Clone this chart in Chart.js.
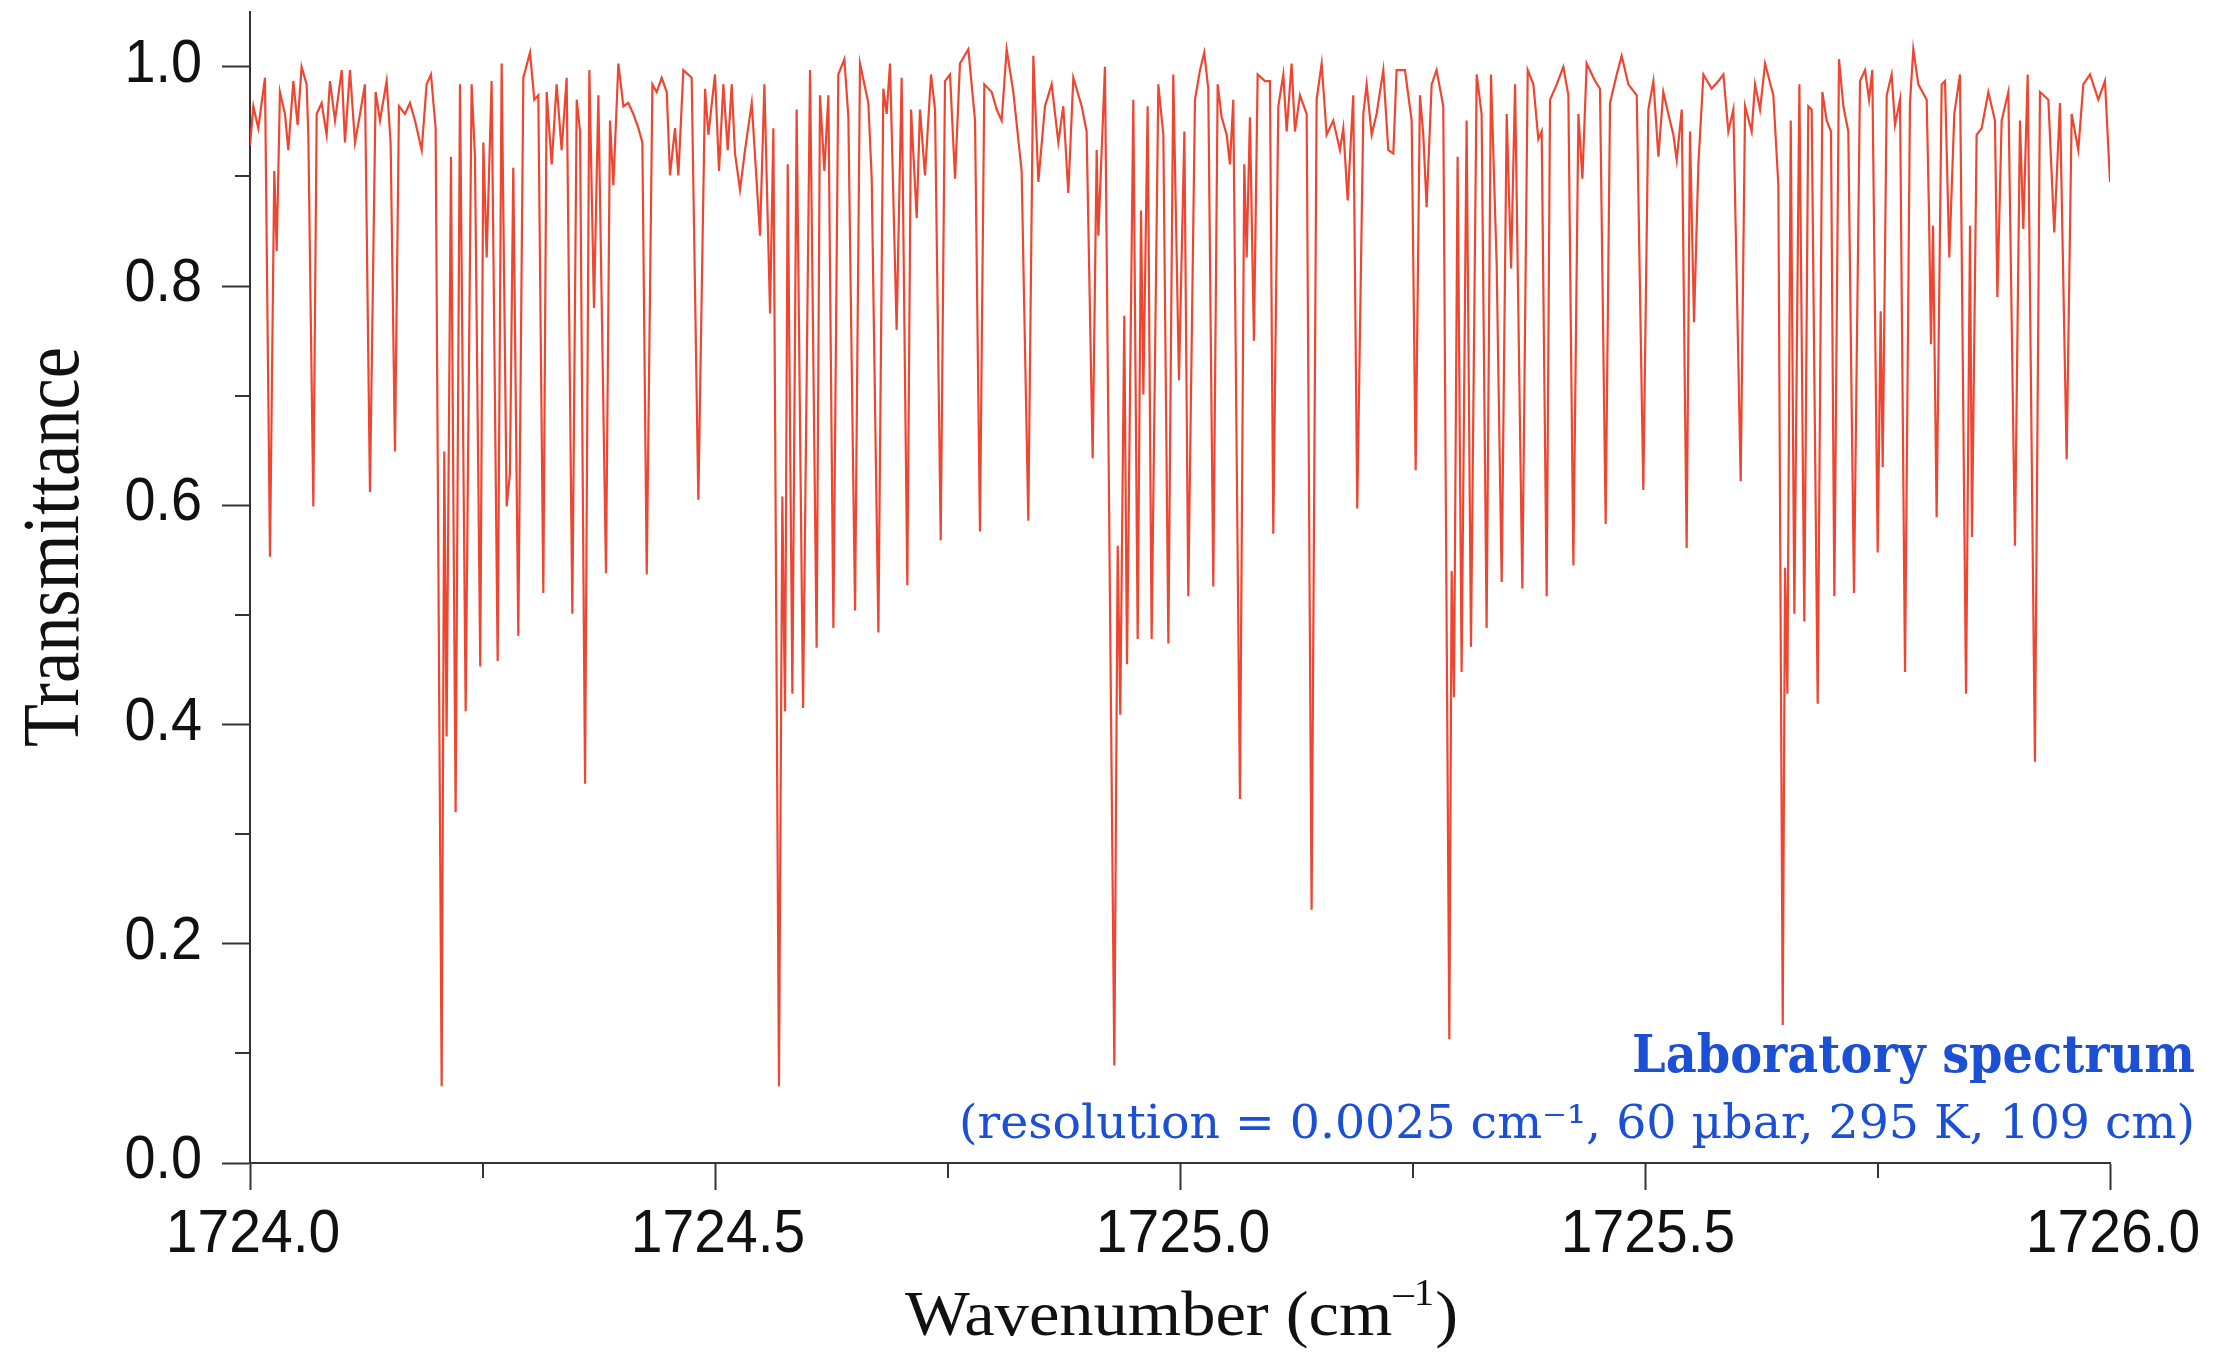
<!DOCTYPE html>
<html>
<head>
<meta charset="utf-8">
<title>Laboratory spectrum</title>
<script src="https://cdn.jsdelivr.net/npm/chart.js@4.4.1/dist/chart.umd.min.js"></script>
<style>
  html, body { margin: 0; padding: 0; background: #fff; }
  canvas { display: block; }
</style>
</head>
<body>
<canvas id="spectrum" width="2218" height="1355"></canvas>
<script>
// wavenumber (cm-1) and transmittance
const wavenumber = [
  1724.0000, 1724.0036, 1724.0089, 1724.0161, 1724.0215, 1724.0261, 1724.0287, 1724.0322, 1724.0376, 1724.0412,
  1724.0466, 1724.0512, 1724.0555, 1724.0609, 1724.0627, 1724.0681, 1724.0717, 1724.0770, 1724.0824, 1724.0860,
  1724.0914, 1724.0986, 1724.1021, 1724.1075, 1724.1129, 1724.1183, 1724.1236, 1724.1290, 1724.1351, 1724.1398,
  1724.1469, 1724.1512, 1724.1559, 1724.1602, 1724.1666, 1724.1720, 1724.1774, 1724.1846, 1724.1899, 1724.1946,
  1724.1996, 1724.2061, 1724.2089, 1724.2114, 1724.2161, 1724.2211, 1724.2258, 1724.2319, 1724.2383, 1724.2419,
  1724.2476, 1724.2509, 1724.2545, 1724.2598, 1724.2663, 1724.2706, 1724.2760, 1724.2795, 1724.2831, 1724.2885,
  1724.2939, 1724.3011, 1724.3057, 1724.3100, 1724.3154, 1724.3190, 1724.3244, 1724.3297, 1724.3351, 1724.3405,
  1724.3466, 1724.3513, 1724.3549, 1724.3603, 1724.3649, 1724.3699, 1724.3746, 1724.3828, 1724.3871, 1724.3907,
  1724.3961, 1724.4015, 1724.4068, 1724.4122, 1724.4176, 1724.4219, 1724.4266, 1724.4327, 1724.4373, 1724.4427,
  1724.4481, 1724.4516, 1724.4570, 1724.4606, 1724.4660, 1724.4749, 1724.4821, 1724.4893, 1724.4929, 1724.5000,
  1724.5043, 1724.5090, 1724.5137, 1724.5180, 1724.5215, 1724.5269, 1724.5323, 1724.5395, 1724.5448, 1724.5484,
  1724.5531, 1724.5592, 1724.5628, 1724.5688, 1724.5724, 1724.5753, 1724.5782, 1724.5832, 1724.5878, 1724.5947,
  1724.6022, 1724.6093, 1724.6129, 1724.6176, 1724.6219, 1724.6273, 1724.6326, 1724.6391, 1724.6434, 1724.6506,
  1724.6559, 1724.6649, 1724.6685, 1724.6757, 1724.6810, 1724.6846, 1724.6882, 1724.6953, 1724.7007, 1724.7068,
  1724.7108, 1724.7169, 1724.7204, 1724.7258, 1724.7323, 1724.7366, 1724.7427, 1724.7473, 1724.7527, 1724.7581,
  1724.7634, 1724.7724, 1724.7796, 1724.7849, 1724.7896, 1724.7975, 1724.8029, 1724.8082, 1724.8136, 1724.8208,
  1724.8297, 1724.8369, 1724.8423, 1724.8477, 1724.8548, 1724.8620, 1724.8692, 1724.8745, 1724.8799, 1724.8853,
  1724.8943, 1724.8996, 1724.9061, 1724.9104, 1724.9122, 1724.9193, 1724.9294, 1724.9330, 1724.9358, 1724.9401,
  1724.9430, 1724.9498, 1724.9545, 1724.9581, 1724.9606, 1724.9652, 1724.9695, 1724.9767, 1724.9821, 1724.9875,
  1724.9928, 1724.9989, 1725.0047, 1725.0089, 1725.0161, 1725.0215, 1725.0261, 1725.0304, 1725.0358, 1725.0405,
  1725.0448, 1725.0502, 1725.0537, 1725.0573, 1725.0645, 1725.0691, 1725.0717, 1725.0752, 1725.0795, 1725.0835,
  1725.0914, 1725.0967, 1725.1003, 1725.1057, 1725.1111, 1725.1147, 1725.1200, 1725.1236, 1725.1290, 1725.1362,
  1725.1415, 1725.1469, 1725.1523, 1725.1577, 1725.1648, 1725.1720, 1725.1756, 1725.1803, 1725.1863, 1725.1906,
  1725.1971, 1725.2007, 1725.2061, 1725.2114, 1725.2186, 1725.2240, 1725.2294, 1725.2329, 1725.2419, 1725.2491,
  1725.2534, 1725.2580, 1725.2616, 1725.2652, 1725.2706, 1725.2759, 1725.2831, 1725.2896, 1725.2921, 1725.2946,
  1725.2985, 1725.3028, 1725.3082, 1725.3129, 1725.3190, 1725.3243, 1725.3297, 1725.3344, 1725.3405, 1725.3459,
  1725.3513, 1725.3560, 1725.3603, 1725.3681, 1725.3739, 1725.3800, 1725.3853, 1725.3889, 1725.3943, 1725.3979,
  1725.4051, 1725.4122, 1725.4176, 1725.4230, 1725.4284, 1725.4327, 1725.4373, 1725.4463, 1725.4516, 1725.4577,
  1725.4624, 1725.4696, 1725.4749, 1725.4821, 1725.4911, 1725.4982, 1725.5036, 1725.5090, 1725.5144, 1725.5197,
  1725.5251, 1725.5305, 1725.5341, 1725.5395, 1725.5448, 1725.5484, 1725.5527, 1725.5574, 1725.5628, 1725.5717,
  1725.5789, 1725.5843, 1725.5896, 1725.5950, 1725.6029, 1725.6076, 1725.6147, 1725.6183, 1725.6237, 1725.6291,
  1725.6380, 1725.6434, 1725.6481, 1725.6506, 1725.6531, 1725.6567, 1725.6606, 1725.6660, 1725.6713, 1725.6756,
  1725.6792, 1725.6857, 1725.6907, 1725.6953, 1725.7000, 1725.7036, 1725.7086, 1725.7133, 1725.7186, 1725.7247,
  1725.7312, 1725.7366, 1725.7409, 1725.7444, 1725.7502, 1725.7534, 1725.7556, 1725.7599, 1725.7652, 1725.7688,
  1725.7742, 1725.7796, 1725.7849, 1725.7885, 1725.7939, 1725.8029, 1725.8054, 1725.8075, 1725.8097, 1725.8136,
  1725.8190, 1725.8226, 1725.8272, 1725.8326, 1725.8387, 1725.8452, 1725.8495, 1725.8516, 1725.8566, 1725.8620,
  1725.8692, 1725.8763, 1725.8789, 1725.8835, 1725.8907, 1725.8978, 1725.9032, 1725.9068, 1725.9115, 1725.9193,
  1725.9247, 1725.9337, 1725.9401, 1725.9462, 1725.9534, 1725.9588, 1725.9659, 1725.9713, 1725.9785, 1725.9874,
  1725.9946, 1726.0000
];
const transmittance = [
  0.928, 0.964, 0.944, 0.990, 0.553, 0.905, 0.832, 0.977, 0.957, 0.924,
  0.987, 0.947, 1.000, 0.984, 0.938, 0.599, 0.957, 0.967, 0.938, 0.987,
  0.951, 0.997, 0.931, 0.997, 0.931, 0.957, 0.984, 0.612, 0.977, 0.951,
  0.987, 0.931, 0.649, 0.964, 0.957, 0.967, 0.951, 0.924, 0.984, 0.993,
  0.944, 0.070, 0.649, 0.389, 0.918, 0.320, 0.984, 0.412, 0.984, 0.918,
  0.453, 0.931, 0.826, 0.987, 0.458, 1.003, 0.599, 0.629, 0.908, 0.481,
  0.990, 1.013, 0.970, 0.974, 0.520, 0.977, 0.911, 0.984, 0.924, 0.990,
  0.501, 0.970, 0.941, 0.346, 0.997, 0.780, 0.974, 0.538, 0.951, 0.892,
  1.003, 0.964, 0.967, 0.957, 0.944, 0.931, 0.537, 0.984, 0.977, 0.990,
  0.977, 0.901, 0.944, 0.901, 0.997, 0.990, 0.605, 0.980, 0.938, 0.993,
  0.905, 0.984, 0.924, 0.984, 0.921, 0.888, 0.924, 0.967, 0.895, 0.846,
  0.984, 0.775, 0.944, 0.070, 0.608, 0.412, 0.911, 0.428, 0.961, 0.415,
  0.997, 0.470, 0.974, 0.905, 0.974, 0.488, 0.993, 1.007, 0.954, 0.504,
  1.003, 0.967, 0.898, 0.484, 0.980, 0.957, 1.003, 0.760, 0.990, 0.527,
  0.961, 0.862, 0.961, 0.901, 0.993, 0.961, 0.568, 0.987, 0.993, 0.898,
  1.003, 1.016, 0.951, 0.576, 0.984, 0.977, 0.961, 0.951, 1.016, 0.977,
  0.905, 0.586, 1.010, 0.895, 0.964, 0.984, 0.931, 0.964, 0.885, 0.990,
  0.964, 0.941, 0.643, 0.924, 0.846, 1.000, 0.089, 0.563, 0.409, 0.773,
  0.455, 0.970, 0.478, 0.869, 0.701, 0.964, 0.478, 0.984, 0.938, 0.474,
  0.993, 0.714, 0.941, 0.517, 0.970, 0.997, 1.013, 0.980, 0.526, 0.984,
  0.954, 0.938, 0.911, 0.970, 0.332, 0.911, 0.826, 0.954, 0.750, 0.993,
  0.987, 0.987, 0.574, 0.964, 0.993, 0.941, 1.003, 0.941, 0.974, 0.957,
  0.231, 0.970, 1.003, 0.938, 0.951, 0.924, 0.944, 0.878, 0.974, 0.597,
  0.957, 0.984, 0.938, 0.957, 0.997, 0.924, 0.921, 0.997, 0.997, 0.951,
  0.632, 0.974, 0.938, 0.872, 0.984, 0.997, 0.964, 0.113, 0.540, 0.425,
  0.918, 0.448, 0.951, 0.471, 0.993, 0.957, 0.488, 0.993, 0.820, 0.530,
  0.957, 0.816, 0.984, 0.524, 0.997, 0.984, 0.934, 0.941, 0.517, 0.970,
  0.984, 1.000, 0.974, 0.545, 0.957, 0.898, 1.003, 0.987, 0.980, 0.583,
  0.967, 0.993, 1.010, 0.984, 0.974, 0.614, 0.961, 0.987, 0.918, 0.977,
  0.957, 0.938, 0.915, 0.961, 0.561, 0.941, 0.767, 0.911, 0.993, 0.980,
  0.987, 0.993, 0.941, 0.961, 0.622, 0.964, 0.941, 0.984, 0.961, 1.003,
  0.974, 0.892, 0.126, 0.543, 0.428, 0.951, 0.501, 0.984, 0.494, 0.964,
  0.961, 0.419, 0.977, 0.951, 0.941, 0.517, 1.007, 0.964, 0.941, 0.520,
  0.987, 0.997, 0.970, 0.997, 0.557, 0.777, 0.635, 0.974, 0.993, 0.947,
  0.970, 0.448, 0.967, 1.016, 0.984, 0.970, 0.865, 0.747, 0.855, 0.589,
  0.984, 0.987, 0.826, 0.957, 0.993, 0.428, 0.855, 0.571, 0.938, 0.944,
  0.977, 0.951, 0.790, 0.951, 0.977, 0.563, 0.951, 0.852, 0.993, 0.366,
  0.977, 0.970, 0.849, 0.967, 0.642, 0.957, 0.924, 0.984, 0.993, 0.970,
  0.987, 0.895
];

const xTicks = [1724.0, 1724.5, 1725.0, 1725.5, 1726.0];
const xMinorTicks = [1724.25, 1724.75, 1725.25, 1725.75];
const yTicks = [0.0, 0.2, 0.4, 0.6, 0.8, 1.0];
const yMinorTicks = [0.1, 0.3, 0.5, 0.7, 0.9];

const xTitle = 'Wavenumber (cm';
const xTitleSup = '\u20131';
const yTitle = 'Transmittance';
const noteTitle = 'Laboratory spectrum';
const noteDetail = '(resolution = 0.0025 cm\u207B\u00B9, 60 \u00B5bar, 295 K, 109 cm)';

const lineColor = '#ee4630';
const noteColor = '#1b4fd4';
const axisColor = '#333';

if (wavenumber.length !== transmittance.length) {
    console.error('data length mismatch', wavenumber.length, transmittance.length);
}

// draw text squeezed horizontally, the figure uses narrow lettering
function squeezed(ctx, text, x, y, font, sx, align) {
    ctx.save();
    ctx.font = font;
    ctx.textAlign = align;
    ctx.textBaseline = 'alphabetic';
    ctx.translate(x, y);
    ctx.scale(sx, 1);
    ctx.fillText(text, 0, 0);
    ctx.restore();
}

const axisText = {
    id: 'axisText',
    afterDraw(chart) {
        const ctx = chart.ctx;
        const xs = chart.scales.x;
        const ys = chart.scales.y;
        const area = chart.chartArea;

        ctx.save();
        // minor ticks
        ctx.strokeStyle = axisColor;
        ctx.lineWidth = 2;
        ctx.beginPath();
        yMinorTicks.forEach(v => {
            const y = Math.round(ys.getPixelForValue(v));
            ctx.moveTo(area.left - 15, y);
            ctx.lineTo(area.left, y);
        });
        xMinorTicks.forEach(v => {
            const x = Math.round(xs.getPixelForValue(v));
            ctx.moveTo(x, area.bottom);
            ctx.lineTo(x, area.bottom + 15);
        });
        ctx.stroke();

        // tick labels
        ctx.fillStyle = '#111';
        const tickFont = '62px "Liberation Sans", Arial, sans-serif';
        yTicks.forEach(v => {
            squeezed(ctx, v.toFixed(1), area.left - 48, ys.getPixelForValue(v) + 15, tickFont, 0.9, 'right');
        });
        xTicks.forEach(v => {
            squeezed(ctx, v.toFixed(1), xs.getPixelForValue(v) + 3, area.bottom + 89, tickFont, 0.92, 'center');
        });

        // y title, rotated
        ctx.save();
        ctx.font = '80px "Liberation Serif", "Times New Roman", serif';
        const yw = ctx.measureText(yTitle).width;
        ctx.translate(78, 547);
        ctx.rotate(-Math.PI / 2);
        ctx.scale(400 / yw, 1);
        ctx.textAlign = 'center';
        ctx.fillText(yTitle, 0, 0);
        ctx.restore();

        // x title with superscript
        const mainFont = '64px "Liberation Serif", "Times New Roman", serif';
        const supFont = '38px "Liberation Serif", "Times New Roman", serif';
        ctx.font = mainFont;
        const w1 = ctx.measureText(xTitle).width;
        const w3 = ctx.measureText(')').width;
        ctx.font = supFont;
        const w2 = ctx.measureText(xTitleSup).width;
        const sx = 553 / (w1 + w2 + w3 + 2);
        ctx.save();
        ctx.translate(905, 1335);
        ctx.scale(sx, 1);
        ctx.textAlign = 'left';
        ctx.font = mainFont;
        ctx.fillText(xTitle, 0, 0);
        ctx.font = supFont;
        ctx.fillText(xTitleSup, w1 + 1, -30);
        ctx.font = mainFont;
        ctx.fillText(')', w1 + w2 + 2, 0);
        ctx.restore();

        // annotation, right aligned in the lower right corner
        ctx.fillStyle = noteColor;
        ctx.font = 'bold 53px "DejaVu Serif", serif';
        const n1 = ctx.measureText(noteTitle).width;
        squeezed(ctx, noteTitle, 2195, 1072, ctx.font, 563 / n1, 'right');
        ctx.font = '46px "DejaVu Serif", serif';
        const n2 = ctx.measureText(noteDetail).width;
        squeezed(ctx, noteDetail, 2195, 1138, ctx.font, 1236 / n2, 'right');
        ctx.restore();
    }
};

document.addEventListener('DOMContentLoaded', () => {
    const ctx = document.getElementById('spectrum').getContext('2d');
    const points = wavenumber.map((x, i) => ({ x: x, y: transmittance[i] }));

    new Chart(ctx, {
        type: 'line',
        data: {
            datasets: [{
                label: 'Laboratory spectrum',
                data: points,
                borderColor: lineColor,
                borderWidth: 2.2,
                pointRadius: 0,
                tension: 0,
                fill: false
            }]
        },
        options: {
            responsive: false,
            animation: false,
            devicePixelRatio: 1,
            layout: { padding: { top: 12, right: 108, bottom: 0, left: 0 } },
            plugins: {
                legend: { display: false },
                tooltip: { enabled: false }
            },
            scales: {
                x: {
                    type: 'linear',
                    min: 1724,
                    max: 1726,
                    afterBuildTicks: scale => { scale.ticks = xTicks.map(v => ({ value: v })); },
                    afterFit: scale => { scale.height = 192; },
                    ticks: { display: false },
                    grid: {
                        drawOnChartArea: false,
                        drawTicks: true,
                        tickLength: 27,
                        tickColor: axisColor,
                        tickWidth: 2
                    },
                    border: { display: true, color: axisColor, width: 2 }
                },
                y: {
                    type: 'linear',
                    min: 0,
                    max: 1.05,
                    afterBuildTicks: scale => { scale.ticks = yTicks.map(v => ({ value: v })); },
                    afterFit: scale => { scale.width = 250; },
                    ticks: { display: false },
                    grid: {
                        drawOnChartArea: false,
                        drawTicks: true,
                        tickLength: 28,
                        tickColor: axisColor,
                        tickWidth: 2
                    },
                    border: { display: true, color: axisColor, width: 2 }
                }
            }
        },
        plugins: [axisText]
    });
});
</script>
</body>
</html>
